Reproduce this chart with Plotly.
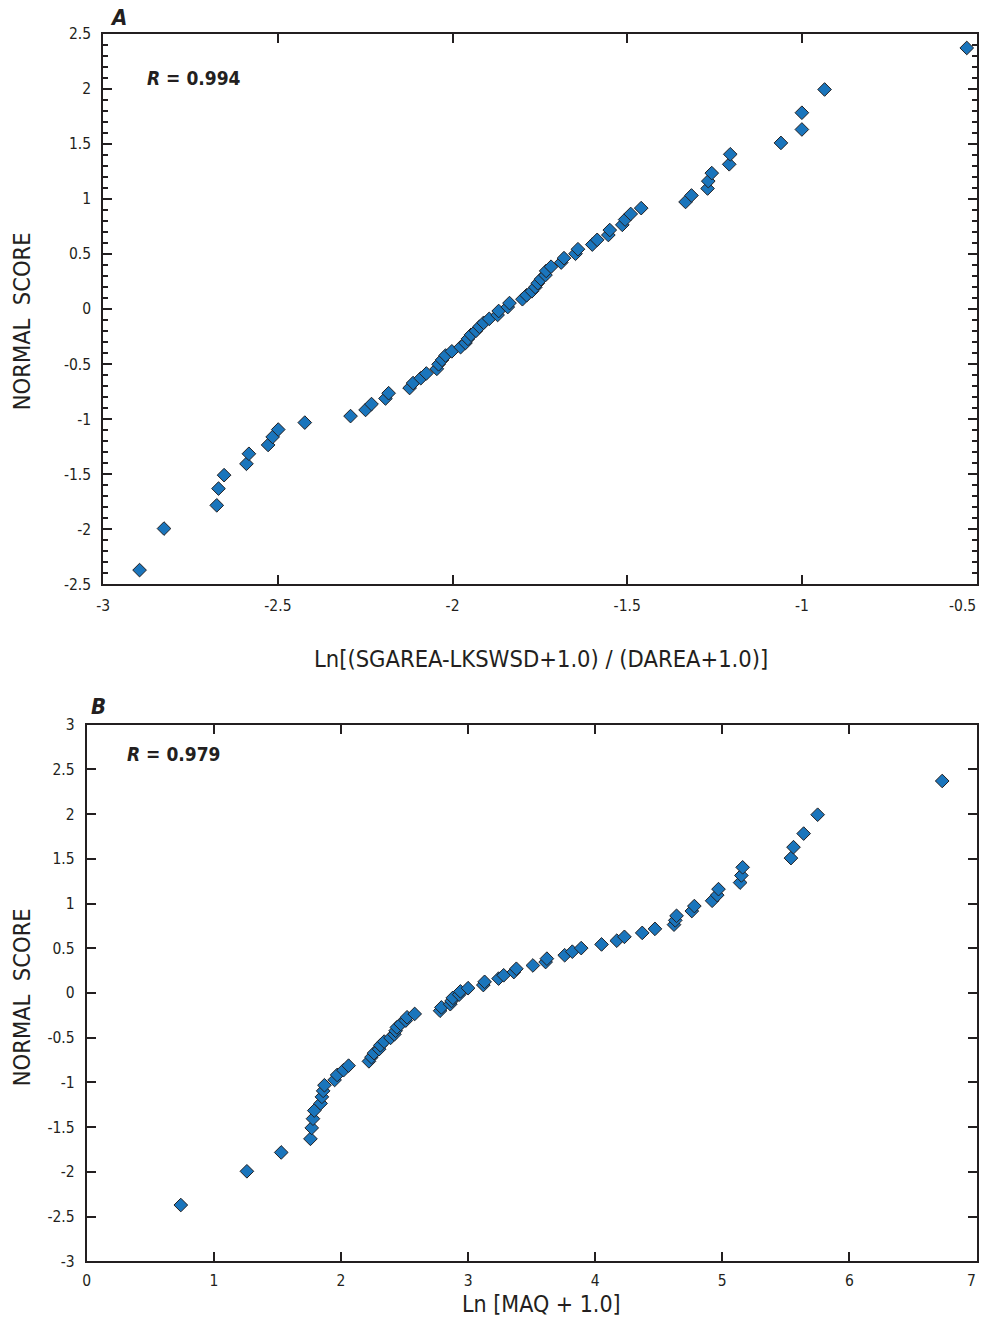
import plotly.graph_objects as go

# Normal scores (plotting positions) for the 70 sites, ascending
normal_score = [
    -2.370, -1.993, -1.782, -1.630, -1.508, -1.405, -1.314, -1.234, -1.161, -1.094,
    -1.031, -0.972, -0.916, -0.863, -0.812, -0.764, -0.717, -0.672, -0.628, -0.585,
    -0.543, -0.502, -0.462, -0.422, -0.384, -0.346, -0.308, -0.271, -0.234, -0.198,
    -0.161, -0.125, -0.089, -0.054, -0.018, 0.018, 0.054, 0.089, 0.125, 0.161,
    0.198, 0.234, 0.271, 0.308, 0.346, 0.384, 0.422, 0.462, 0.502, 0.543,
    0.585, 0.628, 0.672, 0.717, 0.764, 0.812, 0.863, 0.916, 0.972, 1.031,
    1.094, 1.161, 1.234, 1.314, 1.405, 1.508, 1.630, 1.782, 1.993, 2.370,
]

# Panel A: Ln[(SGAREA-LKSWSD+1.0)/(DAREA+1.0)], sorted ascending
ln_area_ratio = [
    -2.896, -2.826, -2.675, -2.670, -2.654, -2.590, -2.583, -2.528, -2.515, -2.499,
    -2.423, -2.292, -2.249, -2.232, -2.192, -2.183, -2.123, -2.113, -2.091, -2.075,
    -2.045, -2.040, -2.030, -2.020, -2.002, -1.977, -1.963, -1.956, -1.947, -1.933,
    -1.923, -1.911, -1.895, -1.871, -1.868, -1.842, -1.837, -1.800, -1.788, -1.773,
    -1.763, -1.756, -1.747, -1.734, -1.732, -1.718, -1.689, -1.681, -1.648, -1.641,
    -1.600, -1.586, -1.554, -1.550, -1.514, -1.506, -1.490, -1.460, -1.333, -1.316,
    -1.270, -1.268, -1.258, -1.208, -1.205, -1.060, -1.000, -1.000, -0.935, -0.528,
]

# Panel B: Ln[MAQ + 1.0], sorted ascending
ln_maq = [
    0.74, 1.26, 1.53, 1.76, 1.77, 1.78, 1.79, 1.84, 1.85, 1.86,
    1.87, 1.95, 1.97, 2.02, 2.06, 2.22, 2.24, 2.26, 2.30, 2.31,
    2.34, 2.39, 2.42, 2.43, 2.44, 2.47, 2.51, 2.52, 2.58, 2.78,
    2.79, 2.86, 2.87, 2.88, 2.93, 2.94, 3.00, 3.12, 3.13, 3.24,
    3.28, 3.36, 3.38, 3.51, 3.61, 3.62, 3.76, 3.82, 3.89, 4.05,
    4.17, 4.23, 4.37, 4.47, 4.62, 4.63, 4.64, 4.76, 4.78, 4.92,
    4.96, 4.97, 5.14, 5.15, 5.16, 5.54, 5.56, 5.64, 5.75, 6.73,
]

r_a = "0.994"
r_b = "0.979"

xa_ticks = [-3, -2.5, -2, -1.5, -1, -0.5]
xa_labels = ["-3", "-2.5", "-2", "-1.5", "-1", "-0.5"]
ya_ticks = [2.5, 2, 1.5, 1, 0.5, 0, -0.5, -1, -1.5, -2, -2.5]
ya_labels = ["2.5", "2", "1.5", "1", "0.5", "0", "-0.5", "-1", "-1.5", "-2", "-2.5"]
xb_ticks = [0, 1, 2, 3, 4, 5, 6, 7]
xb_labels = ["0", "1", "2", "3", "4", "5", "6", "7"]
yb_ticks = [3, 2.5, 2, 1.5, 1, 0.5, 0, -0.5, -1, -1.5, -2, -2.5, -3]
yb_labels = ["3", "2.5", "2", "1.5", "1", "0.5", "0", "-0.5", "-1", "-1.5", "-2", "-2.5", "-3"]

# Sheet geometry: positions below are sheet pixels on the 995 x 1341 print;
# the figure is sized so the page (with the body's default margin) fits the
# window, and SX/SY/OX/OY convert sheet pixels to figure pixels.
W, H = 979, 1325
SX, OX = 0.9925, 6.8
SY, OY = 0.985, 8.4

FONT = "Liberation Sans Narrow, DejaVu Sans Condensed, Arial Narrow, sans-serif"
INK = "#231f20"
TICK_SIZE = 15.5
marker = dict(symbol="diamond", size=10.5, color="#1a75bc",
              line=dict(color=INK, width=1))


def px(x):
    return ((x - OX) / SX) / W


def py(y):
    return 1 - ((y - OY) / SY) / H


def xdom(left, right):
    return [max(0.0, px(left)), min(1.0, px(right))]


def ydom(top, bottom):
    return [py(bottom), py(top)]


fig = go.Figure()
fig.add_trace(go.Scatter(x=ln_area_ratio, y=normal_score, mode="markers",
                         marker=marker, xaxis="x", yaxis="y", showlegend=False))
fig.add_trace(go.Scatter(x=ln_maq, y=normal_score, mode="markers",
                         marker=marker, xaxis="x2", yaxis="y2", showlegend=False))

common = dict(showline=True, linecolor=INK, linewidth=2, mirror="allticks",
              ticks="inside", ticklen=9, tickwidth=1.5, tickcolor=INK,
              showgrid=False, zeroline=False,
              tickfont=dict(family=FONT, size=TICK_SIZE, color=INK))

# The last x label of each panel sits at the sheet edge; it is set as
# right-aligned text so it stays on the page.
xa_axis_text = xa_labels[:-1] + [""]
xb_axis_text = xb_labels[:-1] + [""]

B_BOTTOM = 1259

fig.update_layout(
    width=W, height=H,
    margin=dict(l=0, r=0, t=0, b=0),
    paper_bgcolor="white", plot_bgcolor="white",
    xaxis=dict(common, domain=xdom(103, 976), range=[-3, -0.5], anchor="y",
               tickvals=xa_ticks, ticktext=xa_axis_text, ticklabelstandoff=6),
    yaxis=dict(common, domain=ydom(33, 583), range=[-2.5, 2.5], anchor="x",
               tickvals=ya_ticks, ticktext=ya_labels, ticklabelstandoff=7,
               minor=dict(dtick=0.1, ticks="inside", ticklen=5, tickwidth=1.5,
                          tickcolor=INK, showgrid=False)),
    xaxis2=dict(common, domain=xdom(86.5, 976), range=[0, 7], anchor="y2",
                tickvals=xb_ticks, ticktext=xb_axis_text, ticklabelstandoff=4),
    yaxis2=dict(common, domain=ydom(723, B_BOTTOM), range=[-3, 3], anchor="x2",
                tickvals=yb_ticks, ticktext=yb_labels, ticklabelstandoff=7),
)

tick_font = dict(family=FONT, size=TICK_SIZE, color=INK)
title_font = dict(family=FONT, size=23.5, color=INK)
panel_font = dict(family=FONT, size=22, color=INK)
ann = [
    dict(text="<b><i>A</i></b>", x=118, y=17, font=panel_font),
    dict(text="<b><i>B</i></b>", x=98, y=705, font=panel_font),
    dict(text="NORMAL  SCORE", x=22, y=320, textangle=-90, font=title_font),
    dict(text="NORMAL  SCORE", x=22, y=995, textangle=-90, font=title_font),
    dict(text="Ln[(SGAREA-LKSWSD+1.0) / (DAREA+1.0)]", x=541, y=657, font=title_font),
    dict(text="Ln [MAQ + 1.0]", x=541, y=1302,
         font=dict(family=FONT, size=23, color=INK)),
    dict(text=xa_labels[-1], x=977, y=605, font=tick_font, xanchor="right"),
    dict(text=xb_labels[-1], x=977, y=B_BOTTOM + 20, font=tick_font, xanchor="right"),
]
for a in ann:
    fig.add_annotation(text=a["text"], x=px(a["x"]), y=py(a["y"]),
                       xref="paper", yref="paper", showarrow=False,
                       xanchor=a.get("xanchor", "center"), yanchor="middle",
                       textangle=a.get("textangle", 0), font=a["font"])

r_font = dict(family=FONT, size=19, color=INK)
fig.add_annotation(text=f"<b><i>R</i> = {r_a}</b>", x=px(145), y=py(77),
                   xref="paper", yref="paper", showarrow=False,
                   xanchor="left", yanchor="middle", font=r_font)
fig.add_annotation(text=f"<b><i>R</i> = {r_b}</b>", x=px(125), y=py(752),
                   xref="paper", yref="paper", showarrow=False,
                   xanchor="left", yanchor="middle", font=r_font)

fig.write_html("out.html")
